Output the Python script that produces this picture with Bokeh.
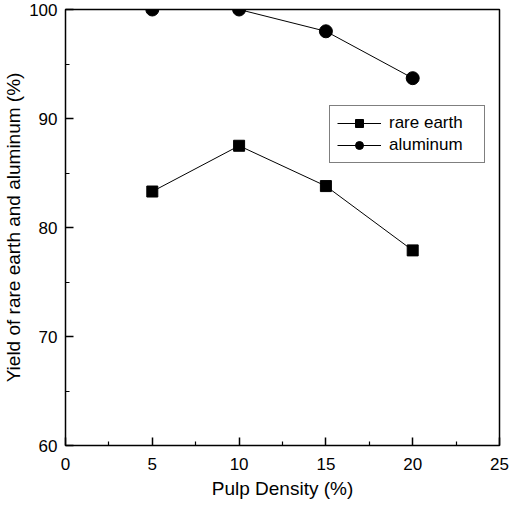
from bokeh.plotting import figure
from bokeh.models import Range1d, Legend, LegendItem, FixedTicker
from bokeh.embed import file_html
from bokeh.resources import INLINE

pulp_density = [5, 10, 15, 20]
rare_earth = [83.3, 87.5, 83.8, 77.9]
aluminum = [100.0, 100.0, 98.0, 93.7]
x_ticks = [0, 5, 10, 15, 20, 25]
x_minor = [2.5, 7.5, 12.5, 17.5, 22.5]
y_ticks = [60, 70, 80, 90, 100]
y_minor = [65, 75, 85, 95]

FONT = "Liberation Sans"

p = figure(width=513, height=502, output_backend="svg", toolbar_location=None,
           x_range=Range1d(0, 25), y_range=Range1d(60, 100),
           min_border_left=63, min_border_right=14, min_border_top=9, min_border_bottom=57)
p.grid.visible = False
p.outline_line_color = "black"
p.outline_line_width = 1.5
p.background_fill_color = "white"
p.border_fill_color = "white"

for ax in (p.xaxis[0], p.yaxis[0]):
    ax.axis_line_color = None
    ax.major_tick_in = 8
    ax.major_tick_out = 0
    ax.minor_tick_in = 4
    ax.minor_tick_out = 0
    ax.major_tick_line_color = "black"
    ax.minor_tick_line_color = "black"
    ax.major_tick_line_width = 1.5
    ax.minor_tick_line_width = 1.2
    ax.major_label_text_font = FONT
    ax.major_label_text_font_size = "17px"
    ax.major_label_text_color = "black"
    ax.axis_label_text_font = FONT
    ax.axis_label_text_font_size = "19px"
    ax.axis_label_text_font_style = "normal"
    ax.axis_label_text_color = "black"

p.xaxis.ticker = FixedTicker(ticks=x_ticks, minor_ticks=x_minor)
p.yaxis.ticker = FixedTicker(ticks=y_ticks, minor_ticks=y_minor)
p.xaxis.axis_label = "Pulp Density (%)"
p.yaxis.axis_label = "Yield of rare earth and aluminum (%)"
p.xaxis.major_label_standoff = 12
p.xaxis.axis_label_standoff = 5
p.yaxis.major_label_standoff = 8
p.yaxis.axis_label_standoff = 2

l1 = p.line(pulp_density, rare_earth, line_color="black", line_width=1)
s1 = p.scatter(pulp_density, rare_earth, marker="square", size=11,
               fill_color="black", line_color="black")
l2 = p.line(pulp_density, aluminum, line_color="black", line_width=1)
s2 = p.scatter(pulp_density, aluminum, marker="circle", size=13,
               fill_color="black", line_color="black")

legend = Legend(items=[LegendItem(label="rare earth", renderers=[l1, s1]),
                       LegendItem(label="aluminum", renderers=[l2, s2])],
                location=(264, 282), glyph_width=44, glyph_height=20,
                label_text_font=FONT, label_text_font_size="17px",
                label_text_color="black",
                label_standoff=8, label_width=88, padding=7, spacing=2, margin=0,
                border_line_color="black", border_line_width=1.2,
                background_fill_alpha=1.0)
p.add_layout(legend, "center")

open("out.html", "w").write(file_html(p, INLINE))
